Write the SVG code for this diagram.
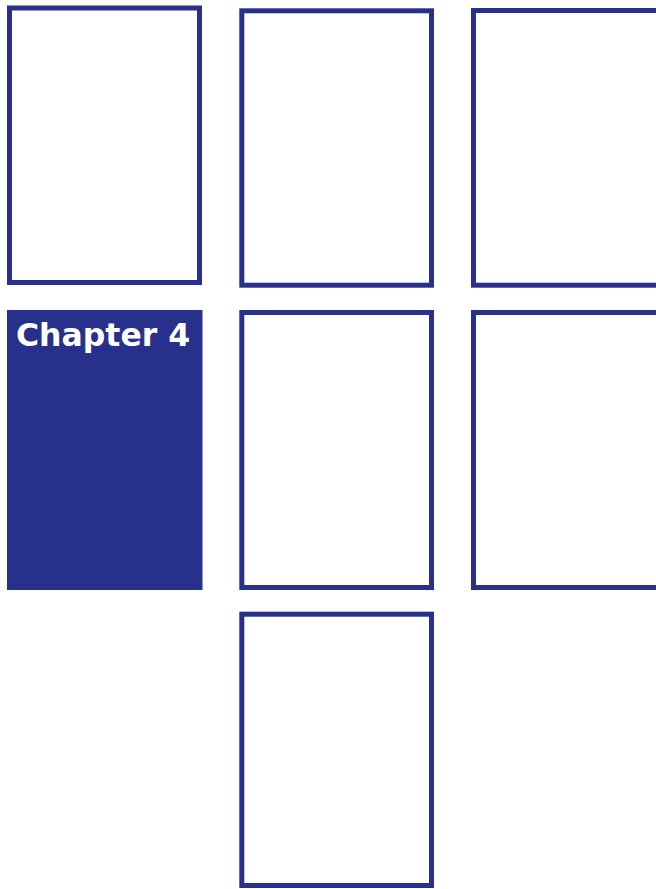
<svg xmlns="http://www.w3.org/2000/svg" width="656" height="889" viewBox="0 0 656 889">
  <style>
    .page { fill: #ffffff; stroke: #27318b; stroke-width: 5; }
    .filled { fill: #27318b; }
    .title { font-family: "DejaVu Sans", Verdana, sans-serif; font-weight: bold; font-size: 31.5px; fill: #ffffff; }
  </style>
  <rect x="0" y="0" width="656" height="889" fill="#ffffff"/>
  <g id="page1"><rect class="page" x="9.5" y="8" width="190" height="274.5"/></g>
  <g id="page2"><rect class="page" x="241.8" y="10.8" width="189.7" height="274.4"/></g>
  <g id="page3"><rect class="page" x="473.5" y="10.5" width="200" height="274.7"/></g>
  <g id="chapter4">
    <rect class="filled" x="7" y="310" width="195.5" height="280"/>
    <text class="title" x="16" y="345.5">Chapter 4</text>
  </g>
  <g id="page5"><rect class="page" x="241.8" y="312.5" width="189.7" height="275"/></g>
  <g id="page6"><rect class="page" x="473.5" y="312.5" width="200" height="275"/></g>
  <g id="page7"><rect class="page" x="241.8" y="614.2" width="189.7" height="271.3"/></g>
  <g id="connectors"></g>
</svg>
